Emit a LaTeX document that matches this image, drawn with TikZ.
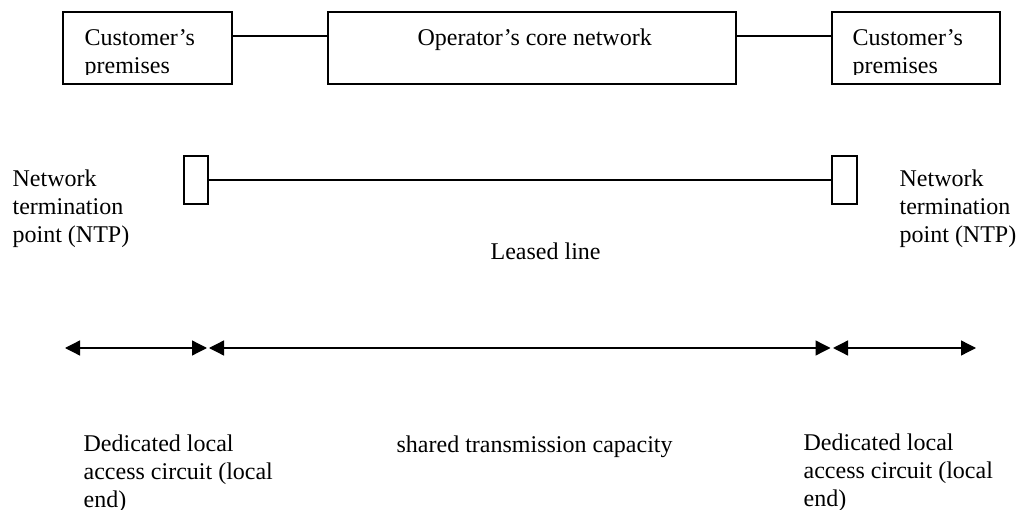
\documentclass[tikz,border=0pt]{standalone}
\usepackage{fontspec}
\setmainfont{Liberation Serif}
\usetikzlibrary{positioning,arrows.meta,calc}

\begin{document}
\begin{tikzpicture}[x=1pt,y=-1pt,line width=1.3pt,
	box/.style={draw,inner sep=0pt},
	txt/.style={anchor=base west,inner sep=0pt,align=left,
		font=\fontsize{24}{28}\selectfont},
	dim/.style={{Triangle[length=15pt,width=15pt]}-{Triangle[length=15pt,width=15pt]}}]
	\useasboundingbox (0,0) rectangle (1017,510);

	% top row (base = last line)
	\node[box,minimum width=169pt,minimum height=72pt] (custL) at (147.5,48) {};
	\node[box,minimum width=408pt,minimum height=72pt] (core) at (532,48) {};
	\node[box,minimum width=168pt,minimum height=72pt] (custR) at (916,48) {};
	\begin{scope}
		\clip (63,12) rectangle (1000,74.5);
		\node[txt] (custLtxt) at (84,73.5) {Customer’s\\premises};
		\node[txt] (coretxt) at (417,46) {Operator’s core network};
		\node[txt] (custRtxt) at (852,73.5) {Customer’s\\premises};
	\end{scope}
	\draw ([yshift=12pt]custL.east) -- ([yshift=12pt]core.west);
	\draw ([yshift=12pt]core.east) -- ([yshift=12pt]custR.west);

	% leased line
	\node[box,minimum width=24pt,minimum height=48pt] (ntpL) at (196,180) {};
	\node[box,minimum width=25pt,minimum height=48pt] (ntpR) at (844.5,180) {};
	\draw (ntpL) -- (ntpR);
	\node[txt] (ntpLtxt) at (12,242.5) {Network\\termination\\point (NTP)};
	\node[txt] (ntpRtxt) at (899,242.5) {Network\\termination\\point (NTP)};
	\node[txt] (leased) at (490,260) {Leased line};

	% extents
	\coordinate (a0) at (65,348);
	\coordinate (a1) at (208,348);
	\coordinate (a2) at (832,348);
	\coordinate (a3) at (976,348);
	\draw[dim,shorten >=1pt] (a0) -- (a1);
	\draw[dim,shorten <=1pt,shorten >=1.5pt] (a1) -- (a2);
	\draw[dim,shorten <=1pt] (a2) -- (a3);
	\node[txt] (localL) at (83,507) {Dedicated local\\access circuit (local\\end)};
	\node[txt] (shared) at (396,452) {shared transmission capacity};
	\node[txt] (localR) at (803,506) {Dedicated local\\access circuit (local\\end)};
\end{tikzpicture}
\end{document}
